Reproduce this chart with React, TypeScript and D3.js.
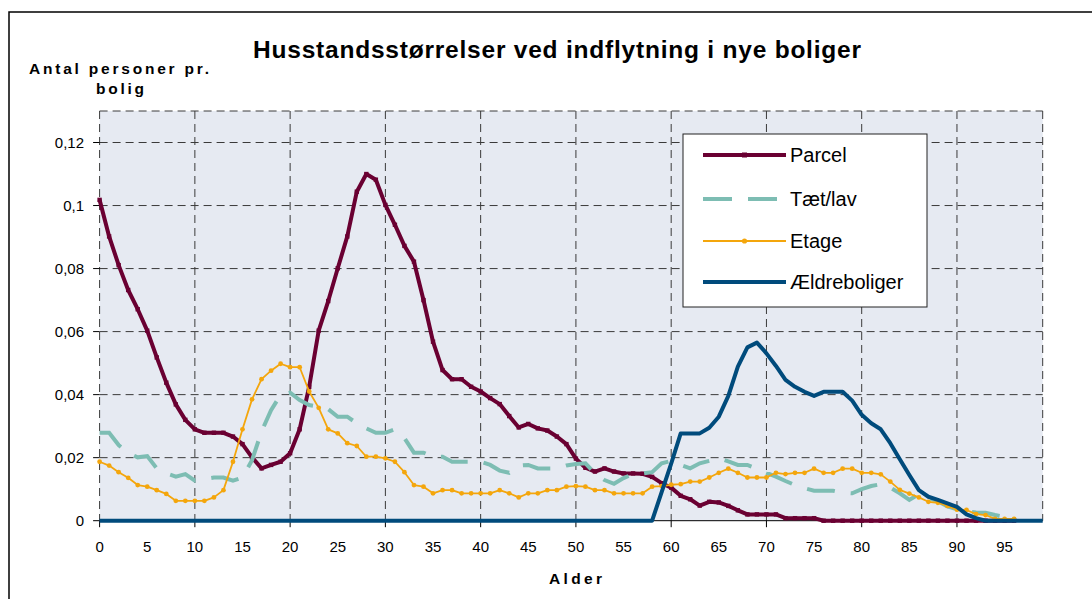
import React from "react";
import * as d3 from "d3";

const parcel = [
  0.1018, 0.0902, 0.0811, 0.0732, 0.0671, 0.0603, 0.0518, 0.0438, 0.0369, 0.032,
  0.029, 0.0279, 0.0279, 0.0279, 0.0267, 0.0243, 0.0201, 0.0166, 0.0177, 0.0187,
  0.0214, 0.029, 0.0425, 0.0603, 0.0697, 0.0801, 0.0902, 0.1044, 0.11, 0.1082,
  0.1002, 0.0939, 0.0872, 0.0822, 0.07, 0.0568, 0.0478, 0.0449, 0.0449, 0.0425,
  0.041, 0.0389, 0.037, 0.0332, 0.0296, 0.0307, 0.0293, 0.0286, 0.0267, 0.0243,
  0.0197, 0.0168, 0.0156, 0.0166, 0.0156, 0.015, 0.015, 0.0149, 0.0139, 0.0119,
  0.0105, 0.0079, 0.0068, 0.0048, 0.006, 0.0058, 0.0047, 0.0033, 0.002, 0.002,
  0.002, 0.002, 0.0008, 0.0008, 0.0008, 0.0008, 0, 0, 0, 0,
  0, 0, 0, 0, 0, 0, 0, 0, 0, 0,
  0, 0, 0, 0, 0, 0, 0,
];

const taetlav = [
  0.0279, 0.0279, 0.024, 0.0215, 0.0201, 0.0205, 0.0166, 0.015, 0.014, 0.0148,
  0.0127, 0.0132, 0.0137, 0.0137, 0.0127, 0.0137, 0.0192, 0.0283, 0.0351, 0.0399,
  0.0406, 0.0383, 0.0367, 0.0362, 0.0354, 0.033, 0.033, 0.0309, 0.0293, 0.0279,
  0.0279, 0.029, 0.0262, 0.0216, 0.0216, 0.0203, 0.0203, 0.0187, 0.0187, 0.0187,
  0.0187, 0.0177, 0.0159, 0.0152, 0.0175, 0.0177, 0.0166, 0.0166, 0.0166, 0.0175,
  0.018, 0.0182, 0.015, 0.0129, 0.0117, 0.0135, 0.0148, 0.015, 0.0154, 0.0182,
  0.019, 0.0177, 0.0166, 0.0182, 0.019, 0.0198, 0.0188, 0.0177, 0.0177, 0.0165,
  0.0152, 0.014, 0.0126, 0.0113, 0.0103, 0.0095, 0.0095, 0.0095, 0.0089, 0.0087,
  0.01, 0.011, 0.0116, 0.0105, 0.0087, 0.0066, 0.0084, 0.0072, 0.0062, 0.0045,
  0.0036, 0.003, 0.0026, 0.0025, 0.0018, 0.0012, 0.0005,
];

const etage = [
  0.0187, 0.0175, 0.0154, 0.0136, 0.0113, 0.0108, 0.0097, 0.0085, 0.0063, 0.0063,
  0.0063, 0.0063, 0.0074, 0.0097, 0.0187, 0.029, 0.0385, 0.0449, 0.0476, 0.0498,
  0.0487, 0.0487, 0.041, 0.0358, 0.029, 0.0277, 0.0246, 0.0237, 0.0203, 0.0203,
  0.0198, 0.0187, 0.0154, 0.0113, 0.0108, 0.0087, 0.0097, 0.0097, 0.0087, 0.0087,
  0.0087, 0.0087, 0.0097, 0.0087, 0.0074, 0.0087, 0.0087, 0.0097, 0.0097, 0.0108,
  0.011, 0.0108, 0.0097, 0.0097, 0.0087, 0.0087, 0.0087, 0.0087, 0.0108, 0.011,
  0.0114, 0.0116, 0.0124, 0.0124, 0.0137, 0.0152, 0.0165, 0.0152, 0.0137, 0.0137,
  0.0137, 0.0152, 0.0148, 0.0152, 0.0152, 0.0165, 0.0152, 0.0152, 0.0165, 0.0165,
  0.0152, 0.0152, 0.0147, 0.0124, 0.0098, 0.0086, 0.0074, 0.006, 0.0057, 0.0047,
  0.0035, 0.0034, 0.0021, 0.0018, 0.0006, 0.0006, 0.0006,
];

const aeldre = [
  0, 0, 0, 0, 0, 0, 0, 0, 0, 0,
  0, 0, 0, 0, 0, 0, 0, 0, 0, 0,
  0, 0, 0, 0, 0, 0, 0, 0, 0, 0,
  0, 0, 0, 0, 0, 0, 0, 0, 0, 0,
  0, 0, 0, 0, 0, 0, 0, 0, 0, 0,
  0, 0, 0, 0, 0, 0, 0, 0, 0, 0.0091,
  0.0181, 0.0277, 0.0277, 0.0277, 0.0295, 0.033, 0.0396, 0.0489, 0.055, 0.0565,
  0.0531, 0.0491, 0.0447, 0.0425, 0.0409, 0.0396, 0.0409, 0.0409, 0.0409, 0.0381,
  0.0336, 0.0309, 0.029, 0.0246, 0.0195, 0.0145, 0.0097, 0.0076, 0.0066, 0.0055,
  0.0044, 0.002, 0.0008, 0, 0, 0, 0, 0, 0, 0,
];

const yTicks = [0, 0.02, 0.04, 0.06, 0.08, 0.1, 0.12];
const yTickLabels = ["0", "0,02", "0,04", "0,06", "0,08", "0,1", "0,12"];
const xLabelTicks = [0, 5, 10, 15, 20, 25, 30, 35, 40, 45, 50, 55, 60, 65, 70, 75, 80, 85, 90, 95];
const xGridTicks = [0, 10, 20, 30, 40, 50, 60, 70, 80, 90];
const legendNames = ["Parcel", "Tæt/lav", "Etage", "Ældreboliger"];

const C_PARCEL = "#6a0032";
const C_TAET = "#7dbdb3";
const C_ETAGE = "#f4a60c";
const C_AELDRE = "#004b7c";

const FONT = "'Liberation Sans', Arial, Helvetica, sans-serif";

export default function App() {
  const left = 99.6, right = 1042.7, top = 111, bottom = 520.7;
  const x = d3.scaleLinear().domain([0, 99]).range([left, right]);
  const y = d3.scaleLinear().domain([0, 0.13]).range([bottom, top]);
  const line = d3
    .line<number>()
    .x((_, i) => x(i))
    .y((d) => y(d));

  const grid = "#3a3a3a";
  const dash = "8,5";

  return (
    <svg
      width={1092}
      height={599}
      style={{ position: "absolute", left: 0, top: 0, background: "#fff" }}
      fontFamily={FONT}
    >
      <rect x={0} y={0} width={1092} height={599} fill="#fff" />
      <rect x={9} y={12} width={1200} height={700} fill="none" stroke="#000" strokeWidth={1.5} />

      <rect x={left} y={top} width={right - left} height={bottom - top} fill="#e6eaf2" />

      {yTicks.slice(1).map((t) => (
        <line key={"hg" + t} x1={left} x2={right} y1={y(t)} y2={y(t)} stroke={grid} strokeWidth={1} strokeDasharray={dash} />
      ))}
      <line x1={left} x2={right} y1={top} y2={top} stroke={grid} strokeWidth={1} strokeDasharray={dash} />
      {xGridTicks.map((t) => (
        <line key={"vg" + t} x1={x(t)} x2={x(t)} y1={top} y2={bottom} stroke={grid} strokeWidth={1} strokeDasharray={dash} />
      ))}
      <line x1={right} x2={right} y1={top} y2={bottom} stroke={grid} strokeWidth={1} strokeDasharray={dash} />

      <line x1={left} x2={right} y1={bottom} y2={bottom} stroke="#000" strokeWidth={1} />

      {yTicks.map((t, i) => (
        <g key={"yt" + t}>
          <line x1={left - 6.5} x2={left} y1={y(t)} y2={y(t)} stroke="#000" strokeWidth={1} />
          <text x={84} y={y(t) + 5.5} textAnchor="end" fontSize={15} fill="#000">
            {yTickLabels[i]}
          </text>
        </g>
      ))}

      {xGridTicks.map((t) => (
        <line key={"xt" + t} x1={x(t)} x2={x(t)} y1={bottom} y2={bottom + 6.5} stroke="#000" strokeWidth={1} />
      ))}
      {xLabelTicks.map((t) => (
        <text key={"xl" + t} x={x(t)} y={552} textAnchor="middle" fontSize={15} fill="#000">
          {t}
        </text>
      ))}

      <path d={line(parcel) || ""} fill="none" stroke={C_PARCEL} strokeWidth={4} strokeLinejoin="round" />
      {parcel.map((v, i) => (
        <rect key={"pm" + i} x={x(i) - 2.2} y={y(v) - 2.2} width={4.4} height={4.4} fill={C_PARCEL} />
      ))}
      <path d={line(taetlav) || ""} fill="none" stroke={C_TAET} strokeWidth={4} strokeDasharray="28,16" />
      <path d={line(etage) || ""} fill="none" stroke={C_ETAGE} strokeWidth={1.8} strokeLinejoin="round" />
      {etage.map((v, i) => (
        <circle key={"em" + i} cx={x(i)} cy={y(v)} r={2.4} fill={C_ETAGE} />
      ))}
      <path d={line(aeldre) || ""} fill="none" stroke={C_AELDRE} strokeWidth={4} strokeLinejoin="round" />

      <rect x={683} y={134} width={244} height={173} fill="#fff" stroke="#222" strokeWidth={1} />
      {legendNames.map((n, i) => {
        const ly = [155, 199, 241, 282][i];
        return (
          <g key={"lg" + n}>
            {i === 0 && (
              <>
                <line x1={703} x2={786} y1={ly} y2={ly} stroke={C_PARCEL} strokeWidth={4} />
                <rect x={742} y={ly - 2.5} width={5} height={5} fill={C_PARCEL} />
              </>
            )}
            {i === 1 && (
              <line x1={703} x2={786} y1={ly} y2={ly} stroke={C_TAET} strokeWidth={4} strokeDasharray="29,16" />
            )}
            {i === 2 && (
              <>
                <line x1={703} x2={786} y1={ly} y2={ly} stroke={C_ETAGE} strokeWidth={1.8} />
                <circle cx={744.5} cy={ly} r={2.6} fill={C_ETAGE} />
              </>
            )}
            {i === 3 && <line x1={703} x2={786} y1={ly} y2={ly} stroke={C_AELDRE} strokeWidth={4} />}
            <text x={790} y={ly + 7} fontSize={20} fill="#000">
              {n}
            </text>
          </g>
        );
      })}

      <text x={253} y={58.3} fontSize={24.5} fontWeight="bold" textLength={608} lengthAdjust="spacing" fill="#000">
        Husstandsstørrelser ved indflytning i nye boliger
      </text>
      <text x={29} y={74} fontSize={15.5} fontWeight="bold" textLength={180} lengthAdjust="spacing" fill="#000">
        Antal personer pr.
      </text>
      <text x={96} y={94} fontSize={15.5} fontWeight="bold" textLength={48} lengthAdjust="spacing" fill="#000">
        bolig
      </text>
      <text x={549} y={584} fontSize={15.5} fontWeight="bold" textLength={53} lengthAdjust="spacing" fill="#000">
        Alder
      </text>
    </svg>
  );
}
